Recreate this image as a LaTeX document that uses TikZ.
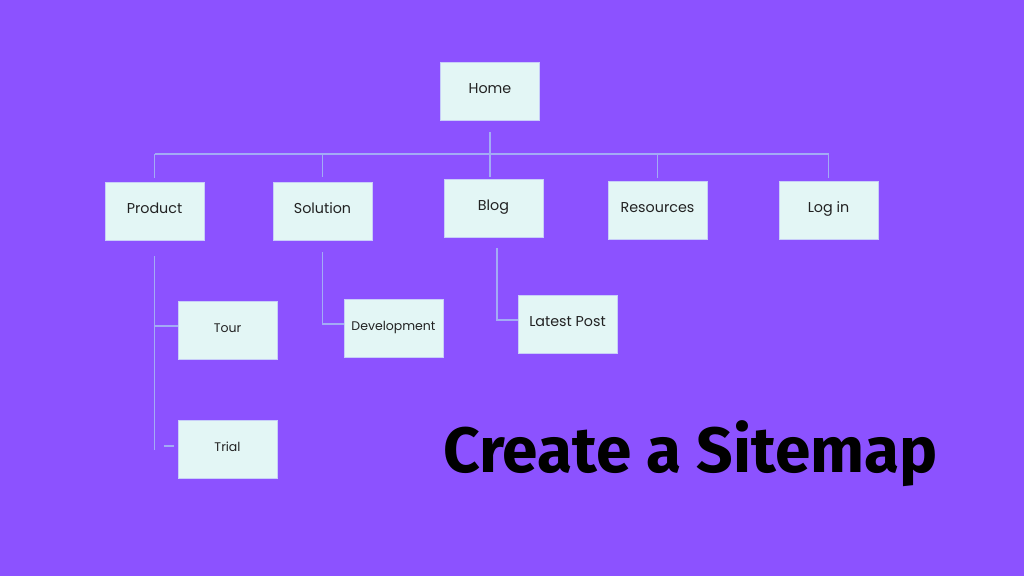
\documentclass[tikz,border=0pt]{standalone}
\usepackage{fontspec}
\setmainfont{Poppins}
\newfontfamily\titlefont{Fira Sans}
\usetikzlibrary{positioning}
\definecolor{bgpurple}{HTML}{8C52FF}
\definecolor{boxmint}{HTML}{E3F6F5}
\definecolor{linkblue}{HTML}{A3ABF5}
\definecolor{inkgray}{HTML}{222222}
\begin{document}
\begin{tikzpicture}[x=1pt, y=-1pt,
    page node/.style={rectangle, draw=linkblue!60!white, line width=.6pt, fill=boxmint, minimum width=99pt, minimum height=58pt, inner sep=0pt, text height=10pt, text depth=6pt, text=inkgray, font=\fontsize{14.3}{16}\selectfont},
    sub node/.style={page node, font=\fontsize{12.5}{15}\selectfont},
    link/.style={draw=linkblue, line width=1.1pt}]
\fill[bgpurple] (0,0) rectangle (1024,576);
\useasboundingbox (0,0) rectangle (1024,576);
% top level
\node[page node] (home) at (490,91) {Home};
\node[page node] (product) at (154.5,211) {Product};
\node[page node] (solution) at (322.5,211) {Solution};
\node[page node] (blog) at (493.5,208) {Blog};
\node[page node] (resources) at (657.5,210) {Resources};
\node[page node] (login) at (828.5,210) {Log in};
% second level
\node[sub node] (tour) at (227.5,330) {Tour};
\node[sub node] (trial) at (227.5,449) {Trial};
\node[sub node] (development) at (393.5,328) {Development};
\node[page node] (latest) at (567.5,324) {Latest Post};
\coordinate (bus) at (490,154);
% home to top level
\draw[link, shorten <=12pt, shorten >=2pt] (home.south) -- (home.south |- blog.north);
\draw[link] (product.north |- bus) -- (login.north |- bus);
\draw[link, shorten >=4pt] (product.north |- bus) -- (product.north);
\draw[link, shorten >=5pt] (solution.north |- bus) -- (solution.north);
\draw[link, shorten >=3pt] (resources.north |- bus) -- (resources.north);
\draw[link, shorten >=3pt] (login.north |- bus) -- (login.north);
% product branch
\draw[link, shorten <=16pt] (product.south) -- ([yshift=-1pt]product.south |- trial.west);
\draw[link] ([yshift=4pt]product.south |- tour.west) -- ([yshift=4pt]tour.west);
\draw[link, shorten <=9pt, shorten >=4pt] ([yshift=3pt]product.south |- trial.west) -- ([yshift=3pt]trial.west);
% solution branch
\draw[link, shorten <=12pt] (solution.south) |- ([yshift=4pt]development.west);
% blog branch
\draw[link, shorten <=11pt] ([xshift=3.5pt]blog.south) |- ([yshift=4pt]latest.west);
% title
\node[font=\titlefont\fontsize{64}{70}\selectfont\bfseries, text=black, anchor=base, inner sep=0pt] (title) at (690.5,472) {Create a Sitemap};
\end{tikzpicture}
\end{document}
